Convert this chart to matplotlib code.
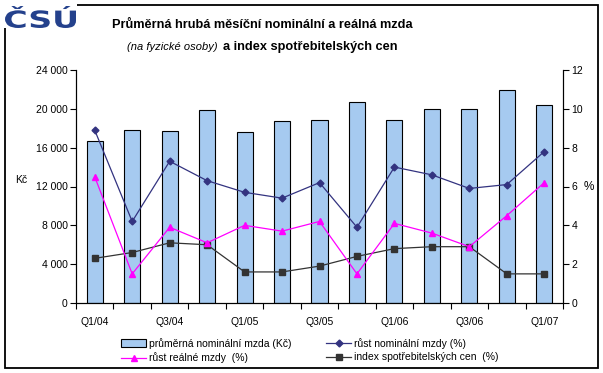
import matplotlib
matplotlib.use("Agg")
import matplotlib.pyplot as plt
from matplotlib.patches import Rectangle, PathPatch
from matplotlib.lines import Line2D
from matplotlib.textpath import TextPath
from matplotlib.font_manager import FontProperties
from matplotlib.transforms import Affine2D
import numpy as np

plt.rcParams['font.family'] = ['Liberation Sans', 'DejaVu Sans']

quarters = ["Q1/04", "Q2/04", "Q3/04", "Q4/04", "Q1/05", "Q2/05", "Q3/05",
            "Q4/05", "Q1/06", "Q2/06", "Q3/06", "Q4/06", "Q1/07"]
wage = [16700, 17830, 17720, 19900, 17600, 18750, 18850,
        20700, 18850, 20000, 20000, 21950, 20400]
nominal_growth = [8.9, 4.2, 7.3, 6.3, 5.7, 5.4, 6.2, 3.9, 7.0, 6.6, 5.9, 6.1, 7.8]
real_growth = [6.5, 1.5, 3.9, 3.1, 4.0, 3.7, 4.2, 1.5, 4.1, 3.6, 2.9, 4.5, 6.2]
cpi = [2.3, 2.6, 3.1, 3.0, 1.6, 1.6, 1.9, 2.4, 2.8, 2.9, 2.9, 1.5, 1.5]
left_ticks = [0, 4000, 8000, 12000, 16000, 20000, 24000]
right_ticks = [0, 2, 4, 6, 8, 10, 12]

W, H = 603, 373
fig = plt.figure(figsize=(W / 100, H / 100), dpi=100)

# outer border
fig.patches.append(Rectangle((5 / W, 1 - 368 / H), 593 / W, 363 / H,
                             transform=fig.transFigure, fill=False,
                             edgecolor='black', linewidth=1.3, zorder=0))

L, R, T, B = 76, 563, 70, 303
ax = fig.add_axes([L / W, 1 - B / H, (R - L) / W, (B - T) / H])
x = np.arange(len(quarters))
ax.bar(x, wage, width=0.43, color='#A6CAF0', edgecolor='black', linewidth=0.8, zorder=2)
ax.set_xlim(-0.5, len(quarters) - 0.5)
ax.set_ylim(0, 24000)
ax.set_yticks(left_ticks)
ax.set_yticklabels([f"{v:,}".replace(",", " ") for v in left_ticks], fontsize=7.5)
ax.set_xticks(x[::2])
ax.set_xticklabels(quarters[::2], fontsize=7.5)
ax.set_xticks(np.arange(-0.5, len(quarters)), minor=True)
ax.tick_params(axis='x', which='major', length=0, pad=10)
ax.tick_params(axis='x', which='minor', length=4, width=0.8, direction='out')
ax.tick_params(axis='y', length=4, width=0.8, direction='out', pad=2)
ax.spines['top'].set_visible(False)
for s in ['left', 'bottom', 'right']:
    ax.spines[s].set_linewidth(0.8)

ax2 = ax.twinx()
ax2.set_ylim(0, 12)
ax2.set_yticks(right_ticks)
ax2.set_yticklabels([str(v) for v in right_ticks], fontsize=7.5)
ax2.tick_params(axis='y', length=4, width=0.8, direction='out', pad=2)
ax2.spines['top'].set_visible(False)
ax2.spines['right'].set_linewidth(0.8)
ax2.plot(x, nominal_growth, color='#333380', linewidth=0.9, marker='D', markersize=3.5, zorder=4)
ax2.plot(x, real_growth, color='#FF00FF', linewidth=0.9, marker='^', markersize=5, zorder=4)
ax2.plot(x, cpi, color='#333333', linewidth=0.9, marker='s', markersize=4.2, zorder=3)

fig.text(21 / W, 1 - 180 / H, "Kč", fontsize=7.5, ha='center', va='center')
fig.text(589 / W, 1 - 187 / H, "%", fontsize=8.5, ha='center', va='center')

# titles
fig.text(262 / W, 1 - 25 / H, "Průměrná hrubá měsíční nominální a reálná mzda",
         fontsize=9.2, fontweight='bold', ha='center', va='center')
fig.text(218 / W, 1 - 47 / H, "(na fyzické osoby)", fontsize=8, style='italic',
         ha='right', va='center')
fig.text(223 / W, 1 - 47 / H, "a index spotřebitelských cen", fontsize=9.2,
         fontweight='bold', ha='left', va='center')

# logo: white patch over the border corner, then text path fitted to the box
x0, y0, x1, y1 = 3, 3, 77, 28
fig.patches.append(Rectangle((x0 / W, 1 - y1 / H), (x1 - x0) / W, (y1 - y0) / H,
                             transform=fig.transFigure, facecolor='white',
                             edgecolor='none', zorder=1))
tp = TextPath((0, 0), "ČSÚ", size=1, prop=FontProperties(family='DejaVu Sans', weight='heavy'))
ext = tp.get_extents()
lx0, ly0, lx1, ly1 = 5, 6, 76, 28
sx = (lx1 - lx0) / W / ext.width
sy = (ly1 - ly0) / H / ext.height
trans = Affine2D().translate(-ext.x0, -ext.y0).scale(sx, sy).translate(lx0 / W, 1 - ly1 / H)
fig.patches.append(PathPatch(trans.transform_path(tp), transform=fig.transFigure,
                             facecolor='#24418C', edgecolor='none', zorder=2))

# legend (column-major fill -> row order: bar, nominal / real, cpi)
h_bar = Rectangle((0, 0), 1, 1, facecolor='#A6CAF0', edgecolor='black', linewidth=0.8)
h_nom = Line2D([], [], color='#333380', marker='D', markersize=3.5, linewidth=0.9)
h_real = Line2D([], [], color='#FF00FF', marker='^', markersize=5, linewidth=0.9)
h_cpi = Line2D([], [], color='#333333', marker='s', markersize=4.2, linewidth=0.9)
handles = [h_bar, h_real, h_nom, h_cpi]
labels = ["průměrná nominální mzda (Kč)", "růst reálné mzdy  (%)",
          "růst nominální mzdy (%)", "index spotřebitelských cen  (%)"]
fig.legend(handles, labels, loc='center', bbox_to_anchor=(310 / W, 1 - 350.5 / H),
           ncol=2, frameon=False, fontsize=7.5, handlelength=2.4, handleheight=0.7,
           columnspacing=3.3, handletextpad=0.3, labelspacing=0.35, borderpad=0)

fig.savefig("out.png", dpi=100)
